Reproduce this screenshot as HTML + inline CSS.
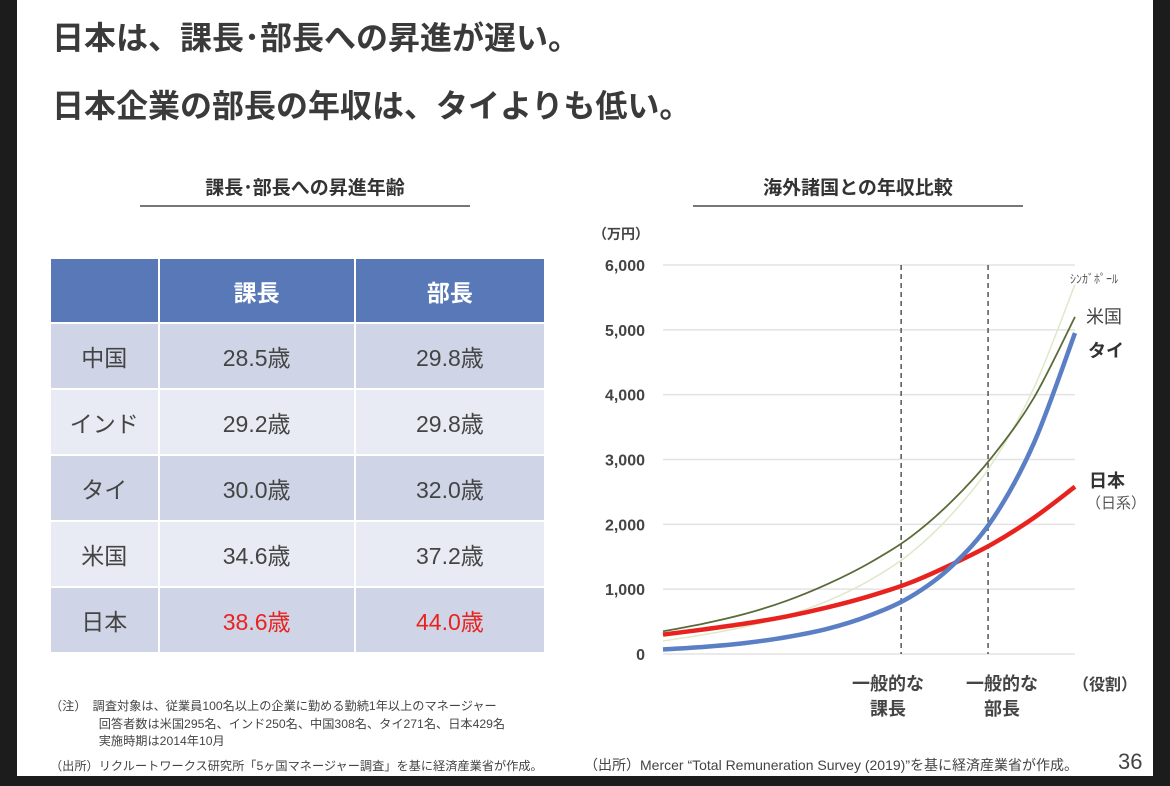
<!DOCTYPE html>
<html><head><meta charset="utf-8"><style>
body{margin:0;width:1170px;height:786px;background:#1c1c1c;position:relative;overflow:hidden;font-family:"Liberation Sans","Noto Sans CJK JP",sans-serif;color:#404040}
#page{position:absolute;left:17px;top:0;width:1136px;height:776px;background:#fff}
.abs{position:absolute;white-space:nowrap}
.h1{font-size:32px;font-weight:bold;color:#3a3a3a;left:52px}
.sub{font-size:19px;font-weight:bold;color:#333;text-align:center}
table{position:absolute;left:49px;top:257px;border-collapse:collapse;width:497px;font-size:23px}
td,th{border:2px solid #fff;text-align:center;padding:0}
th{background:#5878b8;color:#fff;height:63px;font-size:23px}
td{height:64px;color:#444}
tr.a td{background:#cfd5e6}tr.b td{background:#e8ebf3}
.red{color:#e8231f}
.note{font-size:12.2px;color:#444}
</style></head><body>
<div id="page"></div>
<div class="abs h1" style="top:13px">日本は、課長･部長への昇進が遅い。</div>
<div class="abs h1" style="top:81px">日本企業の部長の年収は、タイよりも低い。</div>
<div class="abs sub" style="left:140px;width:330px;top:173px">課長･部長への昇進年齢</div>
<div class="abs" style="left:140px;width:330px;top:205px;height:2px;background:#777"></div>
<div class="abs sub" style="left:693px;width:330px;top:173px">海外諸国との年収比較</div>
<div class="abs" style="left:693px;width:330px;top:205px;height:2px;background:#777"></div>
<table>
<colgroup><col style="width:109px"><col style="width:197px"><col style="width:191px"></colgroup>
<tr><th></th><th>課長</th><th>部長</th></tr>
<tr class="a"><td>中国</td><td>28.5歳</td><td>29.8歳</td></tr>
<tr class="b"><td>インド</td><td>29.2歳</td><td>29.8歳</td></tr>
<tr class="a"><td>タイ</td><td>30.0歳</td><td>32.0歳</td></tr>
<tr class="b"><td>米国</td><td>34.6歳</td><td>37.2歳</td></tr>
<tr class="a"><td>日本</td><td class="red">38.6歳</td><td class="red">44.0歳</td></tr>
</table>
<div class="abs note" style="left:50px;top:698px;line-height:17.5px">（注）　調査対象は、従業員100名以上の企業に勤める勤続1年以上のマネージャー<br>　　　　回答者数は米国295名、インド250名、中国308名、タイ271名、日本429名<br>　　　　実施時期は2014年10月</div>
<div class="abs note" style="left:50px;top:756px">（出所）リクルートワークス研究所「5ヶ国マネージャー調査」を基に経済産業省が作成。</div>
<div class="abs note" style="left:584px;top:755px;font-size:14px">（出所）Mercer “Total Remuneration Survey (2019)”を基に経済産業省が作成。</div>
<div class="abs" style="left:1118px;top:749px;font-size:22px;color:#444">36</div>
<svg id="chart" class="abs" style="left:0;top:0" width="1170" height="786"></svg>
<script>
const yTicks=[0,1000,2000,3000,4000,5000,6000];
const tickLabels=["0","1,000","2,000","3,000","4,000","5,000","6,000"];
const positions=[0,0.1,0.2,0.3,0.4,0.5,0.6,0.7,0.8,0.9,1.0];
const singapore=[200,300,420,590,820,1130,1550,2150,2950,4100,5700];
const usa=[350,470,620,820,1080,1400,1800,2350,3050,3950,5200];
const japan=[300,380,470,580,720,890,1100,1380,1700,2100,2580];
const thailand=[70,110,170,260,390,590,880,1350,2080,3250,4950];
const roleMarks=[0.578,0.789];
const X0=663,X1=1075,Y0=654,Y1=265;
const xs=t=>X0+t*(X1-X0), ys=v=>Y0-v/6000*(Y0-Y1);
const svg=document.getElementById('chart'),NS='http://www.w3.org/2000/svg';
function mk(tag,at){const e=document.createElementNS(NS,tag);for(const k in at)e.setAttribute(k,at[k]);svg.appendChild(e);return e;}
yTicks.forEach((v,i)=>{
 const g=mk('line',{x1:X0,x2:X1,y1:ys(v),y2:ys(v),stroke:'#e3e3e3','stroke-width':1.5});
 
 
 const t=mk('text',{x:645,y:ys(v)+6,'text-anchor':'end','font-size':16,'font-weight':'bold',fill:'#444','font-family':'Liberation Sans, sans-serif'});
 t.textContent=tickLabels[i];
 
 
});
roleMarks.forEach(m=>{
 const l=mk('line',{x1:xs(m),x2:xs(m),y1:Y1,y2:Y0,stroke:'#555','stroke-width':1.5,'stroke-dasharray':'5,4'});
 
 
});
function path(vals){const p=positions.map((t,i)=>[xs(t),ys(vals[i])]);let d='M'+p[0];
 for(let i=0;i<p.length-1;i++){const a=p[Math.max(0,i-1)],b=p[i],c=p[i+1],e=p[Math.min(p.length-1,i+2)];
 d+=' C'+(b[0]+(c[0]-a[0])/6)+','+(b[1]+(c[1]-a[1])/6)+' '+(c[0]-(e[0]-b[0])/6)+','+(c[1]-(e[1]-b[1])/6)+' '+c;}return d;}
[[singapore,'#dfe8c8',1.5,'line-singapore'],[usa,'#5a6b3a',1.8,'line-usa'],[japan,'#e8231f',4.5,'line-japan'],[thailand,'#5a7fc4',4.5,'line-thailand']].forEach(s=>{
 const e=mk('path',{d:path(s[0]),fill:'none',stroke:s[1],'stroke-width':s[2]});
 
 
});
function txt(x,y,s,sz,w,fill,name,anchor){const t=mk('text',{x:x,y:y,'font-size':sz,'font-weight':w,fill:fill,'text-anchor':anchor||'start','font-family':'Liberation Sans, Noto Sans CJK JP, sans-serif'});t.textContent=s;
 
 }
txt(593,239,'（万円）',14,'bold','#444','y-unit-label');
txt(1070,283,'ｼﾝｶﾞﾎﾟｰﾙ',12,'normal','#555','label-singapore');
txt(1086,323,'米国',18,'normal','#444','label-usa');
txt(1088,357,'タイ',18,'bold','#333','label-thailand');
txt(1089,487,'日本',18,'bold','#333','label-japan');
txt(1086,508,'（日系）',15,'normal','#555','label-japan-sub');
txt(888,690,'一般的な',18,'bold','#444','x-label-kacho-1','middle');
txt(888,715,'課長',18,'bold','#444','x-label-kacho-2','middle');
txt(1002,690,'一般的な',18,'bold','#444','x-label-bucho-1','middle');
txt(1002,715,'部長',18,'bold','#444','x-label-bucho-2','middle');
txt(1105,690,'（役割）',16,'bold','#444','x-axis-title','middle');
</script>
</body></html>
